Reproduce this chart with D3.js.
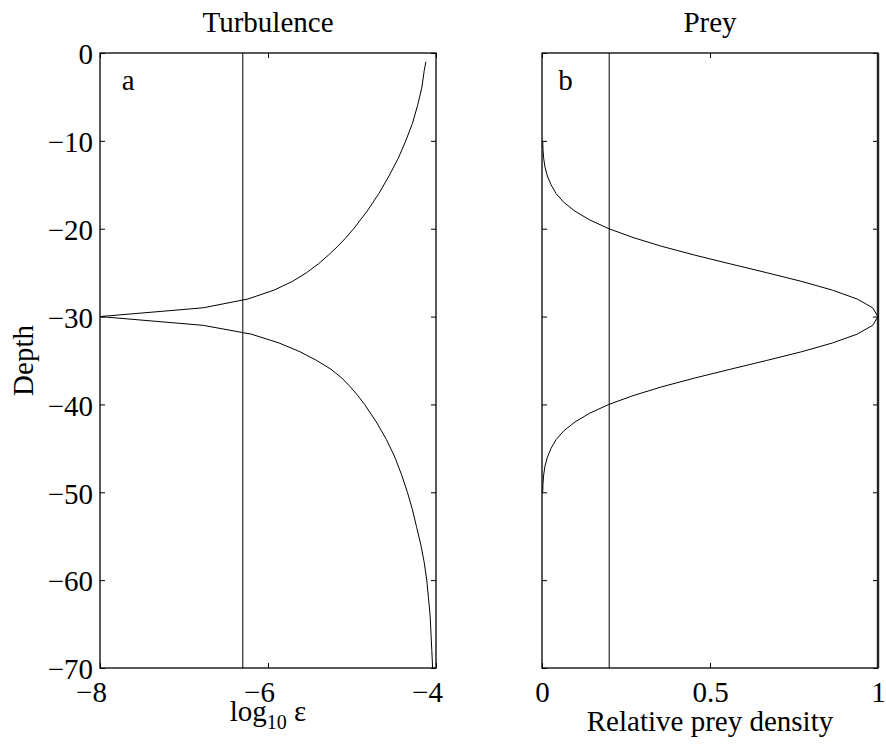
<!DOCTYPE html>
<html>
<head>
<meta charset="utf-8">
<script src="https://cdn.jsdelivr.net/npm/d3@7"></script>
<style>
  body { margin: 0; background: #fff; }
  text { font-family: "Liberation Serif", "Times New Roman", serif; fill: #000; }
</style>
</head>
<body>
<div id="chart"></div>
<script>
// tick values
var depthTicks = [0, -10, -20, -30, -40, -50, -60, -70];
var turbTicks = [-8, -6, -4];
var preyTicks = [0, 0.5, 1];

// panel a: log10 epsilon vs depth
var turbDepth = [-1, -2, -4, -6, -8, -10, -12, -14, -16, -18, -20, -21, -22, -23, -24, -25, -26, -27, -28, -29,
  -30, -31, -32, -33, -34, -35, -36, -37, -38, -39, -40, -42, -44, -46, -48, -50, -52, -54, -56, -58,
  -60, -62, -64, -66, -68, -70];
var turbLog = [-4.12, -4.14, -4.17, -4.22, -4.28, -4.36, -4.45, -4.56, -4.68, -4.82, -4.98, -5.07, -5.17, -5.28, -5.40, -5.54, -5.71, -5.93, -6.24, -6.77,
  -8.00, -6.77, -6.20, -5.87, -5.62, -5.42, -5.25, -5.12, -5.02, -4.93, -4.85, -4.71, -4.59, -4.49, -4.41, -4.34, -4.28, -4.23, -4.18, -4.14,
  -4.11, -4.09, -4.07, -4.06, -4.05, -4.04];
var turbLine = -6.3;

// panel b: relative prey density vs depth
var preyDepth = [-10, -11, -12, -13, -14, -15, -16, -17, -18, -19, -20, -21, -22, -23, -24, -25, -26, -27, -28, -29,
  -30, -31, -32, -33, -34, -35, -36, -37, -38, -39, -40, -41, -42, -43, -44, -45, -46, -47, -48, -49, -50];
var preyDensity = [0.002, 0.003, 0.005, 0.009, 0.016, 0.027, 0.042, 0.065, 0.098, 0.142, 0.199, 0.271, 0.356, 0.454, 0.560, 0.668, 0.773, 0.865, 0.938, 0.984,
  1.000, 0.984, 0.938, 0.865, 0.773, 0.668, 0.560, 0.454, 0.356, 0.271, 0.199, 0.142, 0.098, 0.065, 0.042, 0.027, 0.016, 0.009, 0.005, 0.003, 0.002];
var preyLine = 0.2;

var titles = ["Turbulence", "Prey"];
var letters = ["a", "b"];

var W = 886, H = 745;
var yTop = 53, yBot = 668;
var fs = 29;

var svg = d3.select("#chart").append("svg")
  .attr("width", W)
  .attr("height", H);

var y = d3.scaleLinear().domain([-70, 0]).range([yBot, yTop]);

var xa = d3.scaleLinear().domain([-8, -4]).range([100, 436]);
var xb = d3.scaleLinear().domain([0, 1]).range([542, 878]);

function fmt(d) { return d3.format("")(d); }

function drawPanel(x, xTicks, showY, i) {
  var g = svg.append("g");
  var x0 = x.range()[0], x1 = x.range()[1];

  // ticks pointing inward on all four sides
  var bot = g.append("g").attr("transform", "translate(0," + yBot + ")")
    .call(d3.axisBottom(x).tickValues(xTicks).tickSizeInner(-5).tickSizeOuter(0).tickPadding(13).tickFormat(fmt));
  g.append("g").attr("transform", "translate(0," + yTop + ")")
    .call(d3.axisTop(x).tickValues(xTicks).tickSizeInner(-5).tickSizeOuter(0).tickFormat(""));
  var lef = g.append("g").attr("transform", "translate(" + x0 + ",0)")
    .call(d3.axisLeft(y).tickValues(depthTicks).tickSizeInner(-5).tickSizeOuter(0).tickPadding(7).tickFormat(showY ? fmt : ""));
  g.append("g").attr("transform", "translate(" + x1 + ",0)")
    .call(d3.axisRight(y).tickValues(depthTicks).tickSizeInner(-5).tickSizeOuter(0).tickFormat(""));

  g.selectAll(".domain").remove();
  g.selectAll(".tick line").attr("stroke", "#000").attr("stroke-width", 1);
  g.selectAll(".tick text").attr("font-size", fs).attr("font-family", "Liberation Serif").attr("fill", "#000");
  bot.selectAll(".tick text").attr("dx", function(d) { return d < 0 ? -9 : 0; });
  lef.selectAll(".tick text").attr("dy", "0.37em");

  // box
  g.append("rect")
    .attr("x", x0).attr("y", yTop)
    .attr("width", x1 - x0).attr("height", yBot - yTop)
    .attr("fill", "none").attr("stroke", "#000").attr("stroke-width", 1.3);

  g.append("text")
    .attr("x", (x0 + x1) / 2).attr("y", 32)
    .attr("text-anchor", "middle").attr("font-size", fs)
    .text(titles[i]);

  return g;
}

var ga = drawPanel(xa, turbTicks, true, 0);
var gb = drawPanel(xb, preyTicks, false, 1);

// thicker right edge on panel b
gb.append("line")
  .attr("x1", xb(1)).attr("x2", xb(1)).attr("y1", yTop).attr("y2", yBot)
  .attr("stroke", "#222").attr("stroke-width", 2.4);

// panel letters
ga.append("text").attr("x", xa(-7.74)).attr("y", y(-4.2)).attr("font-size", fs).text(letters[0]);
gb.append("text").attr("x", xb(0.048)).attr("y", y(-4.2)).attr("font-size", fs).text(letters[1]);

// curves
var turb = turbDepth.map(function(d, k) { return [turbLog[k], d]; });
var prey = preyDepth.map(function(d, k) { return [preyDensity[k], d]; });

ga.append("path")
  .datum(turb)
  .attr("fill", "none").attr("stroke", "#000").attr("stroke-width", 1)
  .attr("d", d3.line().x(function(d) { return xa(d[0]); }).y(function(d) { return y(d[1]); }));

gb.append("path")
  .datum(prey)
  .attr("fill", "none").attr("stroke", "#000").attr("stroke-width", 1)
  .attr("d", d3.line().x(function(d) { return xb(d[0]); }).y(function(d) { return y(d[1]); }));

// vertical reference lines
ga.append("line")
  .attr("x1", xa(turbLine)).attr("x2", xa(turbLine)).attr("y1", yTop).attr("y2", yBot)
  .attr("stroke", "#000").attr("stroke-width", 1);
gb.append("line")
  .attr("x1", xb(preyLine)).attr("x2", xb(preyLine)).attr("y1", yTop).attr("y2", yBot)
  .attr("stroke", "#000").attr("stroke-width", 1);

// axis labels
var xl = svg.append("text")
  .attr("x", (xa(-8) + xa(-4)) / 2).attr("y", 721)
  .attr("text-anchor", "middle").attr("font-size", fs);
xl.append("tspan").text("log");
xl.append("tspan").attr("font-size", 20).attr("dy", 8).text("10");
xl.append("tspan").attr("dy", -8).text(" ε");

svg.append("text")
  .attr("x", (xb(0) + xb(1)) / 2).attr("y", 731)
  .attr("text-anchor", "middle").attr("font-size", fs)
  .text("Relative prey density");

svg.append("text")
  .attr("transform", "translate(33," + (yTop + yBot) / 2 + ") rotate(-90)")
  .attr("text-anchor", "middle").attr("font-size", fs)
  .text("Depth");
</script>
</body>
</html>
